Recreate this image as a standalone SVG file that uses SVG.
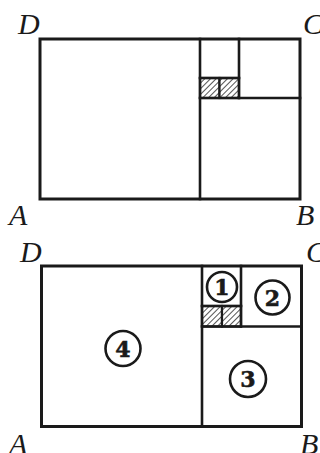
<svg xmlns="http://www.w3.org/2000/svg" width="320" height="453" viewBox="0 0 320 453">
<style>
.ln{fill:none;stroke:#1a1a1a;stroke-width:2.6;stroke-linecap:square}
.ol{fill:none;stroke:#1a1a1a;stroke-width:3}
.hat{fill:url(#h);stroke:#1a1a1a;stroke-width:2.2}
.lab{font-family:"Liberation Serif",serif;font-style:italic;font-size:30px;fill:#1a1a1a}
.cir{fill:none;stroke:#1a1a1a;stroke-width:2.6}
.num{font-family:"DejaVu Serif",serif;font-weight:bold;font-size:22px;fill:#1a1a1a;text-anchor:middle;stroke:#1a1a1a;stroke-width:0.6}
</style>
<defs>
<pattern id="h" width="4" height="4" patternUnits="userSpaceOnUse" patternTransform="rotate(45)">
<rect width="4" height="4" fill="#fff"/>
<line x1="0" y1="0" x2="0" y2="4" stroke="#555" stroke-width="2"/>
</pattern>
</defs>
<g id="top">
<rect class="hat" x="200" y="78" width="19.5" height="20"/>
<rect class="hat" x="219.5" y="78" width="19.5" height="20"/>
<rect class="ol" x="40" y="39" width="260" height="160"/>
<line class="ln" x1="200" y1="39" x2="200" y2="199"/>
<line class="ln" x1="239" y1="39" x2="239" y2="98"/>
<line class="ln" x1="200" y1="78" x2="239" y2="78"/>
<line class="ln" x1="200" y1="98" x2="300" y2="98"/>
<text class="lab" x="18" y="34">D</text>
<text class="lab" x="303" y="34">C</text>
<text class="lab" x="9" y="225">A</text>
<text class="lab" x="296" y="225">B</text>
</g>
<g id="bottom">
<rect class="hat" x="202" y="306" width="20" height="20.5"/>
<rect class="hat" x="222" y="306" width="19" height="20.5"/>
<rect class="ol" x="41.5" y="266" width="260" height="160.5"/>
<line class="ln" x1="202" y1="266" x2="202" y2="426.5"/>
<line class="ln" x1="241" y1="266" x2="241" y2="326.5"/>
<line class="ln" x1="202" y1="306" x2="241" y2="306"/>
<line class="ln" x1="202" y1="326.5" x2="301.5" y2="326.5"/>
<text class="lab" x="20" y="262">D</text>
<text class="lab" x="306" y="262">C</text>
<text class="lab" x="9" y="454">A</text>
<text class="lab" x="300" y="454">B</text>
<g id="n1"><circle class="cir" cx="222" cy="287" r="15"/><text class="num" x="222" y="295">1</text></g>
<g id="n2"><circle class="cir" cx="272.5" cy="297.5" r="17"/><text class="num" x="272.5" y="305.5">2</text></g>
<g id="n3"><circle class="cir" cx="248" cy="379" r="18"/><text class="num" x="248" y="387">3</text></g>
<g id="n4"><circle class="cir" cx="123" cy="348.5" r="17.5"/><text class="num" x="123" y="356.5">4</text></g>
</g>
</svg>
